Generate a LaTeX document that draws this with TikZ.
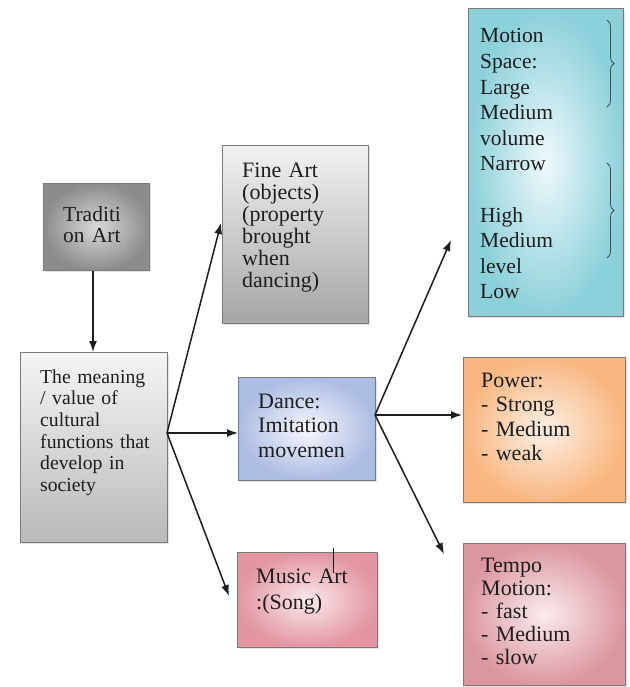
\documentclass[tikz,border=0pt]{standalone}
\usepackage{fontspec}
\setmainfont{Liberation Serif}
\newfontfamily\tnr{Liberation Serif}
\usetikzlibrary{arrows.meta,shadows,decorations.pathreplacing}
\definecolor{ink}{HTML}{1E1E1E}
\definecolor{frame}{HTML}{7A7A7A}
\begin{document}
\begin{tikzpicture}[x=1pt,y=-1pt,
  box/.style={draw=frame, line width=0.9pt, anchor=north west, inner sep=0pt,
    drop shadow={opacity=0.22, shadow xshift=2pt, shadow yshift=-2pt}},
  txt/.style={anchor=base west, align=left, inner sep=0pt, text=ink, text width=150pt},
  arr/.style={draw=ink, line width=1.5pt, -{Latex[length=11pt,width=8pt]}},
  brc/.style={draw=ink!80, line width=0.8pt, decorate, decoration={brace, amplitude=7pt}}
]
\useasboundingbox (0,0) rectangle (629,687);
\fill[white] (0,0) rectangle (629,687);

% boxes
\node[box, minimum width=106pt, minimum height=87pt, inner color=gray!30, outer color=gray!90] (trad) at (43,183) {};
\node[box, minimum width=147pt, minimum height=190pt, top color=gray!8, bottom color=gray!55] (meaning) at (20,352) {};
\node[box, minimum width=146pt, minimum height=178pt, top color=gray!10, bottom color=gray!70] (fine) at (222,145) {};
\node[box, minimum width=137pt, minimum height=103pt, inner color=blue!3, outer color={rgb,255:red,172;green,188;blue,226}] (dance) at (238,377) {};
\node[box, minimum width=140pt, minimum height=95pt, inner color={rgb,255:red,250;green,232;blue,235}, outer color={rgb,255:red,226;green,150;blue,162}] (music) at (237,552) {};
\node[box, minimum width=155pt, minimum height=308pt, inner color={rgb,255:red,238;green,249;blue,251}, outer color={rgb,255:red,140;green,208;blue,218}] (motion) at (468,8) {};
\node[box, minimum width=162pt, minimum height=145pt, inner color={rgb,255:red,253;green,240;blue,230}, outer color={rgb,255:red,248;green,182;blue,128}] (power) at (463,357) {};
\node[box, minimum width=162pt, minimum height=142pt, inner color={rgb,255:red,250;green,236;blue,238}, outer color={rgb,255:red,220;green,150;blue,160}] (tempo) at (463,543) {};

% texts
\node[txt, font=\tnr\fontsize{21.5}{21}\selectfont] (tradT) at (63,221) {Traditi\\on Art};
\node[txt, font=\tnr\fontsize{19.7}{21.7}\selectfont] (meaningT) at (40,383) {The meaning\\/ value of\\cultural\\functions that\\develop in\\society};
\node[txt, font=\tnr\fontsize{22}{22}\selectfont] (fineT) at (242,177) {Fine Art\\(objects)\\(property\\brought\\when\\dancing)};
\node[txt, font=\tnr\fontsize{22}{24.5}\selectfont] (danceT) at (258,408) {Dance:\\Imitation\\movemen};
\node[txt, font=\tnr\fontsize{22}{26}\selectfont] (musicT) at (256,583) {Music Art\\:(Song)};
\node[txt, font=\tnr\fontsize{21.5}{25.6}\selectfont] (motionT) at (480,43) {Motion\\Space:\\Large\\Medium\\volume\\Narrow\\[25.6pt]High\\Medium\\level\\Low};
\node[txt, font=\tnr\fontsize{22}{24.5}\selectfont] (powerT) at (481,387) {Power:\\- Strong\\- Medium\\- weak};
\node[txt, font=\tnr\fontsize{22}{23}\selectfont] (tempoT) at (481,572) {Tempo\\Motion:\\- fast\\- Medium\\- slow};

% braces
\coordinate (b1a) at (607,20);  \coordinate (b1b) at (607,107);
\coordinate (b2a) at (607,163); \coordinate (b2b) at (607,258);
\draw[brc] (b1a) -- (b1b);
\draw[brc] (b2a) -- (b2b);

% stray tick on music box
\coordinate (tickA) at (333,548); \coordinate (tickB) at (333,573);
\draw[ink, line width=0.8pt] (tickA) -- (tickB);

% connectors
\coordinate (mfan) at (167,433);
\coordinate (dfan) at (375,415);
\coordinate (fineIn) at (221,223);
\coordinate (danceIn) at (238,433);
\coordinate (musicIn) at (229,596);
\coordinate (motionIn) at (451,240);
\coordinate (powerIn) at (462,415);
\coordinate (tempoIn) at (444,554);

\draw[arr] (trad.south -| 93,0) -- (meaning.north -| 93,0);
\draw[arr] (mfan) -- (fineIn);
\draw[arr] (mfan) -- (danceIn);
\draw[arr] (mfan) -- (musicIn);
\draw[arr] (dfan) -- (motionIn);
\draw[arr] (dfan) -- (powerIn);
\draw[arr] (dfan) -- (tempoIn);
\end{tikzpicture}
\end{document}
